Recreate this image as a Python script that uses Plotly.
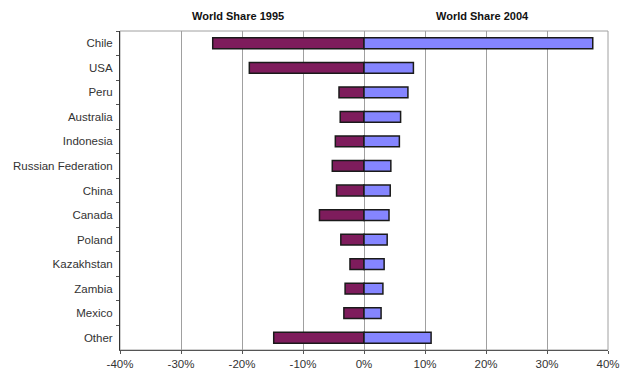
import plotly.graph_objects as go

# Copper producers: share of world output, 1995 vs 2004 (percent)
countries = ["Chile", "USA", "Peru", "Australia", "Indonesia", "Russian Federation",
             "China", "Canada", "Poland", "Kazakhstan", "Zambia", "Mexico", "Other"]
share_1995 = [24.8, 18.8, 4.1, 3.9, 4.7, 5.2, 4.5, 7.3, 3.8, 2.3, 3.1, 3.3, 14.8]
share_2004 = [37.5, 8.1, 7.2, 6.0, 5.8, 4.4, 4.3, 4.1, 3.8, 3.3, 3.1, 2.8, 11.0]
x_ticks = [-40, -30, -20, -10, 0, 10, 20, 30, 40]
x_tick_labels = ["-40%", "-30%", "-20%", "-10%", "0%", "10%", "20%", "30%", "40%"]

font = dict(family="Liberation Sans, Arial, sans-serif", size=11.5, color="#333333")
title_font = dict(family="Liberation Sans, Arial, sans-serif", size=11, color="#111111")

fig = go.Figure()
fig.add_trace(go.Bar(
    y=countries, x=[-v for v in share_1995], orientation="h", name="World Share 1995",
    marker=dict(color="#7E1C5C", line=dict(color="#1a1a1a", width=1.5)),
))
fig.add_trace(go.Bar(
    y=countries, x=share_2004, orientation="h", name="World Share 2004",
    marker=dict(color="#8585FF", line=dict(color="#1a1a1a", width=1.5)),
))

fig.update_layout(
    width=620, height=374,
    margin=dict(l=120, r=12, t=31, b=24),
    paper_bgcolor="white", plot_bgcolor="white",
    barmode="relative", bargap=0.56,
    showlegend=False,
    font=font,
    xaxis=dict(
        range=[-40, 40], tickvals=x_ticks, ticktext=x_tick_labels,
        showgrid=True, gridcolor="#a0a0a0", gridwidth=1,
        zeroline=True, zerolinecolor="#a0a0a0", zerolinewidth=1,
        showline=True, linecolor="#555555", linewidth=1,
        ticks="outside", ticklen=3, tickcolor="#555555",
        tickfont=font, fixedrange=True, automargin=False,
    ),
    yaxis=dict(
        autorange="reversed", showgrid=False,
        showline=True, linecolor="#333333", linewidth=1,
        ticks="outside", ticklen=3, tickcolor="#555555", tickson="boundaries",
        ticklabelstandoff=4,
        tickfont=font, fixedrange=True, automargin=False,
    ),
    shapes=[dict(type="rect", xref="paper", yref="paper", x0=0, x1=1, y0=0, y1=1,
                 line=dict(color="#a0a0a0", width=1), layer="below")],
    annotations=[
        dict(text="<b>World Share 1995</b>", x=0.242, y=1, xref="paper", yref="paper",
             xanchor="center", yanchor="bottom", yshift=7, showarrow=False, font=title_font),
        dict(text="<b>World Share 2004</b>", x=0.742, y=1, xref="paper", yref="paper",
             xanchor="center", yanchor="bottom", yshift=7, showarrow=False, font=title_font),
    ],
)

fig.write_html("out.html")
